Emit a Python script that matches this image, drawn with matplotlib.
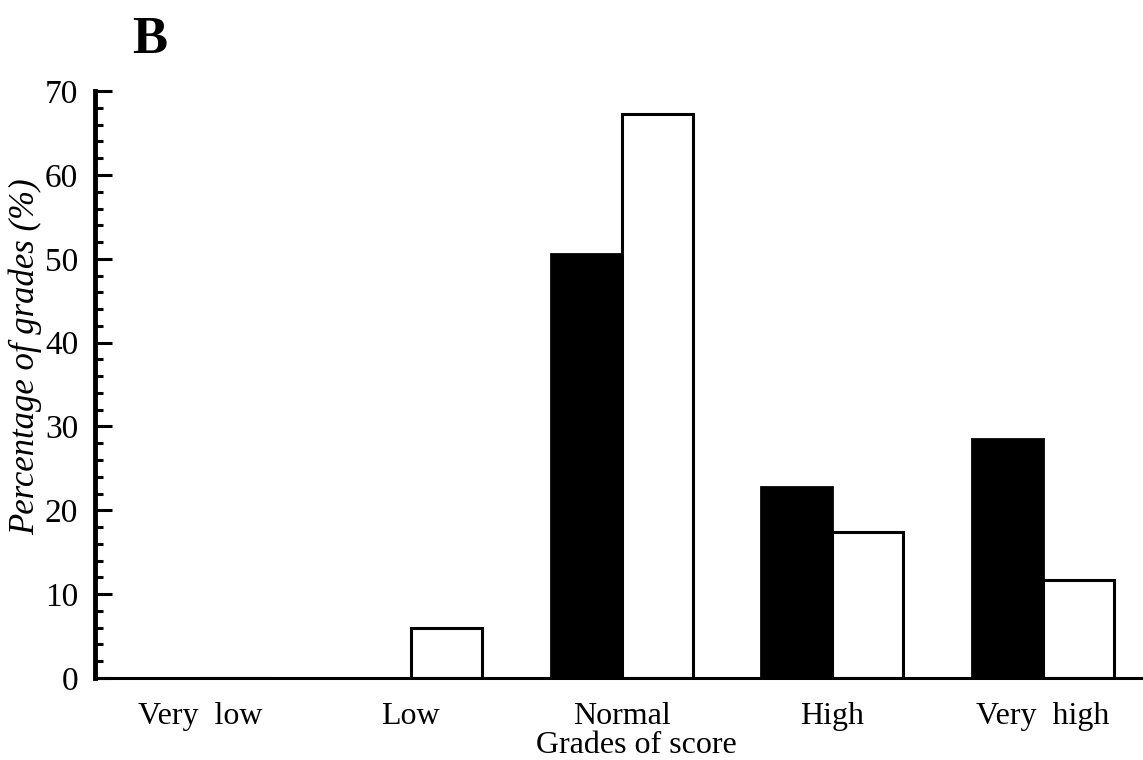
import matplotlib
matplotlib.use('Agg')
import matplotlib.pyplot as plt
import numpy as np
from matplotlib.ticker import MultipleLocator

# data
grades = ['Very  low', 'Low', 'Normal', 'High', 'Very  high']
black_vals = [0.0, 0.0, 50.6, 22.8, 28.5]
white_vals = [0.0, 5.9, 67.3, 17.4, 11.7]

plt.rcParams['font.family'] = 'Liberation Serif'

fig = plt.figure(figsize=(11.43, 7.6), dpi=100)
ax = fig.add_axes([0.083, 0.108, 0.917, 0.772])

x = np.arange(len(grades))
w = 0.337
ax.bar(x - w / 2, black_vals, w, color='black', edgecolor='black', linewidth=2)
ax.bar(x + w / 2, white_vals, w, color='white', edgecolor='black', linewidth=2.2)

ax.set_xlim(-0.5, 4.475)
ax.set_ylim(0, 70)

for s in ['top', 'right']:
    ax.spines[s].set_visible(False)
ax.spines['left'].set_linewidth(3.5)
ax.spines['bottom'].set_linewidth(2.2)

ax.yaxis.set_major_locator(MultipleLocator(10))
ax.yaxis.set_minor_locator(MultipleLocator(2))
ax.tick_params(axis='y', which='major', direction='in', length=12, width=2.2,
               labelsize=24, pad=12)
ax.tick_params(axis='y', which='minor', direction='in', length=6, width=2.2)
ax.set_xticks(x)
ax.set_xticklabels(grades)
ax.tick_params(axis='x', length=0, labelsize=23, pad=17)

ax.set_xlabel('Grades of score', fontsize=23)
ax.xaxis.set_label_coords(0.517, -0.09)
ax.set_ylabel('Percentage of grades (%)', fontsize=25, style='italic')
ax.yaxis.set_label_coords(-0.05, 0.547)

fig.text(150 / 1143, 1 - 40 / 760, 'B', fontsize=38, fontweight='bold',
         ha='center', va='center')

fig.savefig('out.png', dpi=100)
